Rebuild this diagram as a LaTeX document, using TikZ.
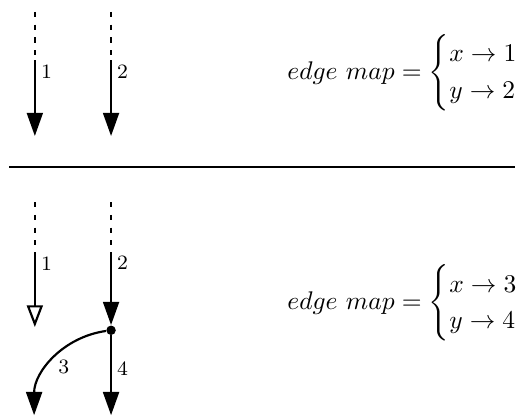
\documentclass[tikz,border=0pt]{standalone}
\usepackage{amsmath}
\usetikzlibrary{positioning, arrows.meta}

\begin{document}
\begin{tikzpicture}[
    edgeline/.style={line width=0.85pt},
    pending/.style={edgeline, dash pattern=on 2pt off 3pt},
    head/.style={edgeline, -{Triangle[length=0.32cm, width=0.22cm]}},
    openhead/.style={edgeline, -{Triangle[open, length=0.3cm, width=0.22cm]}},
    num/.style={right, font=\footnotesize, inner sep=2pt},
    map/.style={anchor=east, inner sep=0pt, xshift=11.2pt}
]

\useasboundingbox (0, 0) rectangle (7.15, -5.72);

% before: two loose edges
\coordinate (ta) at (0.48, -0.165);
\coordinate (tb) at (1.53, -0.165);
\coordinate (ma) at (0.48, -0.827);
\coordinate (mb) at (1.53, -0.827);
\coordinate (ea) at (0.48, -1.874);
\coordinate (eb) at (1.53, -1.874);

\draw [pending] (ta) -- (ma);
\draw [pending] (tb) -- (mb);
\draw [head] (ma) -- node[num, pos=0.16] (na) {1} (ea);
\draw [head] (mb) -- node[num, pos=0.16] (nb) {2} (eb);

\node [map] (topmap) at (7.12, -1.006) {$edge\ map = \begin{cases} x \to 1\\ y \to 2 \end{cases}$};

\draw [edgeline] (0.124, -2.30) -- (7.097, -2.30);

% after: edge 2 is split at the vertex
\coordinate (sa) at (0.48, -2.784);
\coordinate (sb) at (1.53, -2.784);
\coordinate (ua) at (0.48, -3.473);
\coordinate (ub) at (1.53, -3.473);
\coordinate (fa) at (0.48, -4.506);
\node [circle, fill, inner sep=0pt, minimum size=0.13cm] (v) at (1.53, -4.55) {};
\coordinate (e3) at (0.47, -5.72);
\coordinate (e4) at (1.53, -5.72);

\draw [pending] (sa) -- (ua);
\draw [pending] (sb) -- (ub);
\draw [openhead] (ua) -- node[num, pos=0.15] (nc) {1} (fa);
\draw [head] (ub) -- node[num, pos=0.14] (nd) {2} (v);
\draw [head] (v) to[out=188, in=90] (e3);
\draw [head] (v) -- node[num, pos=0.42] (nf) {4} (e4);
\node [font=\footnotesize] (ne) at (0.88, -5.06) {3};

\node [map] (botmap) at (7.12, -4.175) {$edge\ map = \begin{cases} x \to 3\\ y \to 4 \end{cases}$};

\end{tikzpicture}
\end{document}
